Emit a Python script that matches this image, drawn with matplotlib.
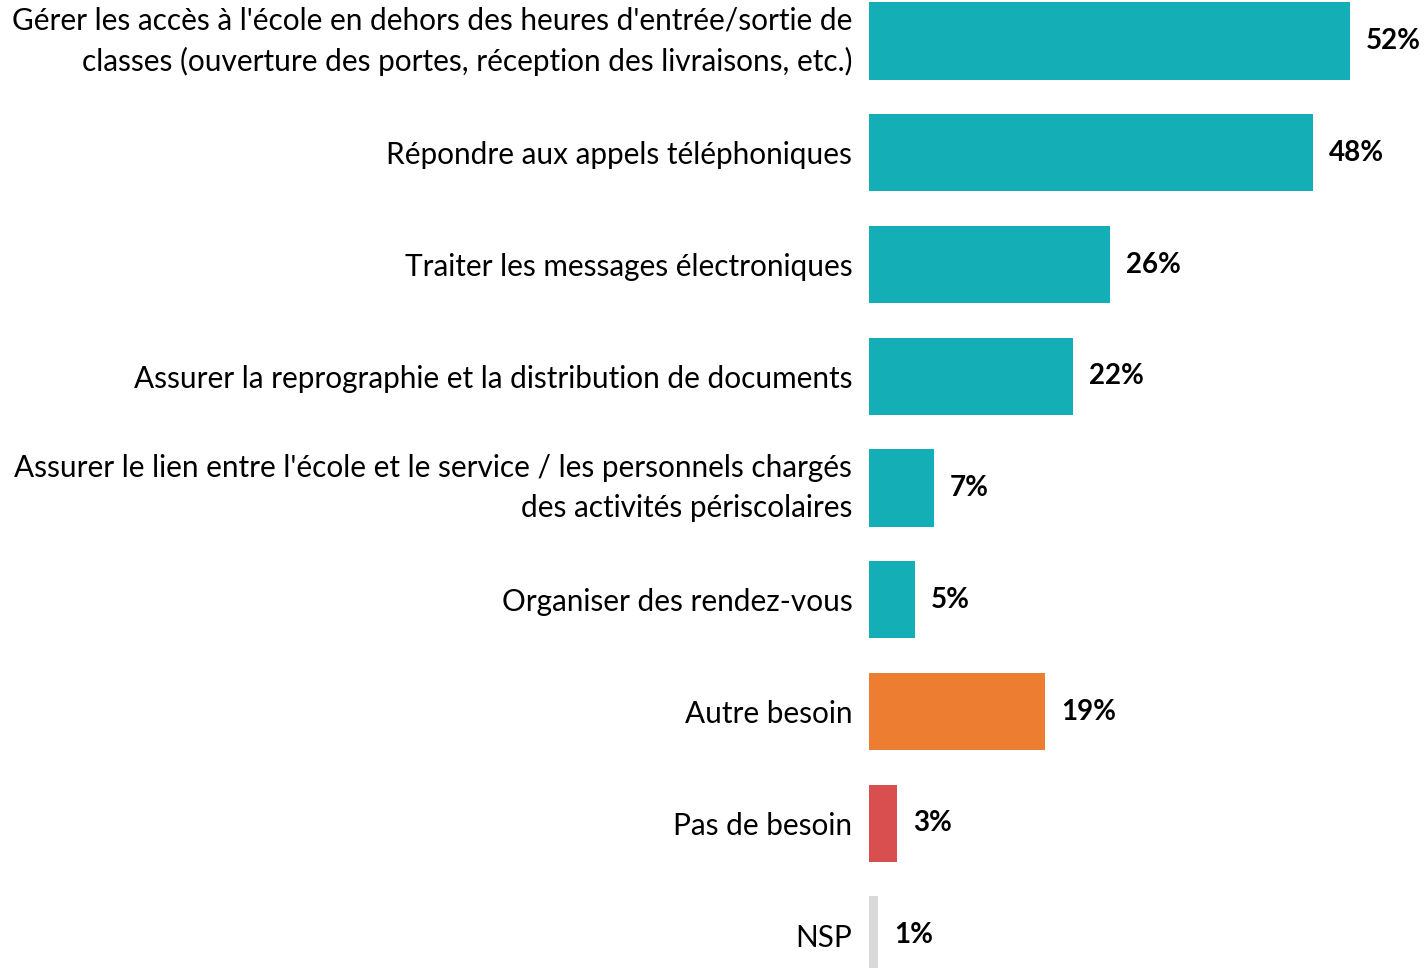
import matplotlib
matplotlib.use('Agg')
import matplotlib.pyplot as plt

categories = [
    "Gérer les accès à l'école en dehors des heures d'entrée/sortie de\nclasses (ouverture des portes, réception des livraisons, etc.)",
    "Répondre aux appels téléphoniques",
    "Traiter les messages électroniques",
    "Assurer la reprographie et la distribution de documents",
    "Assurer le lien entre l'école et le service / les personnels chargés\ndes activités périscolaires",
    "Organiser des rendez-vous",
    "Autre besoin",
    "Pas de besoin",
    "NSP",
]
values = [52, 48, 26, 22, 7, 5, 19, 3, 1]
colors = ['#14AFB6'] * 6 + ['#ED7D31', '#D94F50', '#D9D9D9']

plt.rcParams['font.family'] = ['Lato', 'DejaVu Sans']

fig = plt.figure(figsize=(14.26, 9.68), dpi=100)
ax = fig.add_axes([869 / 1426, 0, 1 - 869 / 1426, 1])

ypos = list(range(len(categories)))
ax.barh(ypos, values, height=0.69, color=colors)
ax.set_xlim(0, 60.2)
ax.set_ylim(8.295, -0.367)

ax.set_yticks(ypos)
ax.set_yticklabels(categories, fontsize=21.4, linespacing=1.5)
# les libellés sur deux lignes : centrage vertical sur la barre
for lbl in ax.get_yticklabels():
    if '\n' in lbl.get_text():
        lbl.set_va('center')
ax.tick_params(axis='y', length=0, pad=12)
ax.set_xticks([])
for s in ax.spines.values():
    s.set_visible(False)

for y, v in zip(ypos, values):
    ax.annotate(f"{v}%", (v, y), xytext=(11.5, 0), textcoords='offset points',
                ha='left', va='center', fontsize=20, fontweight='bold')

fig.savefig('out.png', dpi=100)
